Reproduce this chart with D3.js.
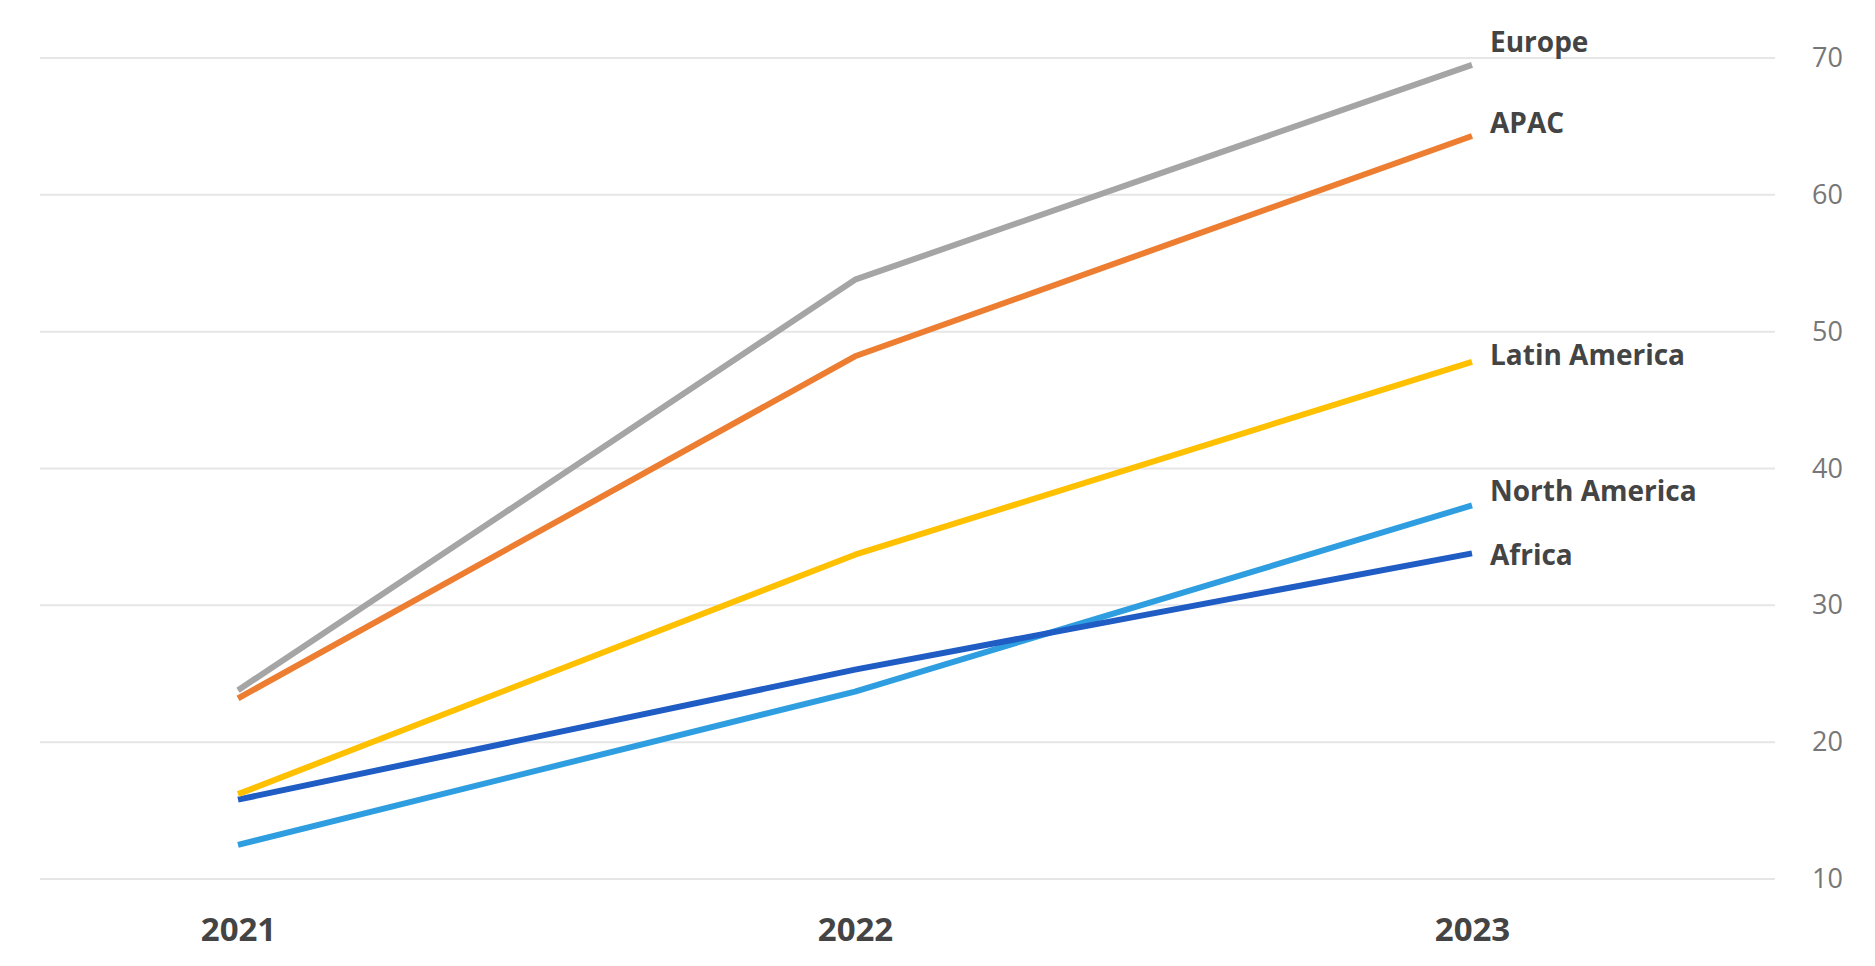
<!DOCTYPE html>
<html lang="en">
<head>
<meta charset="UTF-8">
<title>Chart</title>
<script src="https://cdn.jsdelivr.net/npm/d3@7"></script>
<style>body{margin:0;background:#fff;font-family:"Open Sans",sans-serif;}</style>
</head>
<body>
<svg width="1875" height="966"></svg>
<script>
var years = ['2021', '2022', '2023'];
var seriesNames = ['Europe', 'APAC', 'Latin America', 'North America', 'Africa'];
var europe = [23.8, 53.8, 69.5];
var apac = [23.2, 48.2, 64.3];
var latinAmerica = [16.2, 33.7, 47.8];
var northAmerica = [12.5, 23.7, 37.3];
var africa = [15.8, 25.3, 33.8];
var yTicks = [10, 20, 30, 40, 50, 60, 70];
var colors = ['#a5a5a5', '#ed7d31', '#ffc000', '#2f9ee0', '#1f5cc4'];
var labelDy = [-20, -10, -4, -12, 4];

var svg = d3.select('svg');
var x = d3.scalePoint().domain(years).range([238, 1472]);
var y = d3.scaleLinear().domain([10, 70]).range([879, 58]);

// grid lines
svg.selectAll('.grid').data(yTicks).enter().append('line')
    .attr('x1', 40).attr('x2', 1775)
    .attr('y1', d => y(d)).attr('y2', d => y(d))
    .attr('stroke', '#e6e6e6').attr('stroke-width', 2);

// y tick labels on the right
var yAxis = d3.axisRight(y).tickValues(yTicks).tickSize(0).tickPadding(0);
var ga = svg.append('g').attr('transform', 'translate(1812,0)').call(yAxis);
ga.select('.domain').remove();
ga.selectAll('text').attr('font-size', 27).attr('fill', '#777').attr('font-family', 'Open Sans');

// x labels
var xAxis = d3.axisBottom(x).tickSize(0).tickPadding(0);
var gx = svg.append('g').attr('transform', 'translate(0,918)').call(xAxis);
gx.select('.domain').remove();
gx.selectAll('text').attr('font-size', 33).attr('font-weight', 'bold').attr('fill', '#444').attr('font-family', 'Open Sans');

var data = [europe, apac, latinAmerica, northAmerica, africa];
var line = d3.line().x((d, i) => x(years[i])).y(d => y(d));

// draw lower series first so Europe/APAC sit on top
[3, 4, 2, 1, 0].forEach(function (k) {
    svg.append('path').datum(data[k]).attr('d', line)
        .attr('fill', 'none').attr('stroke', colors[k])
        .attr('stroke-width', 6).attr('stroke-linejoin', 'round');
});

svg.selectAll('.lab').data(seriesNames).enter().append('text')
    .attr('x', x('2023') + 18)
    .attr('y', (d, i) => y(data[i][2]) + labelDy[i])
    .attr('dominant-baseline', 'middle')
    .attr('font-size', 28).attr('font-weight', 'bold').attr('fill', '#444')
    .text(d => d);
</script>
</body>
</html>
